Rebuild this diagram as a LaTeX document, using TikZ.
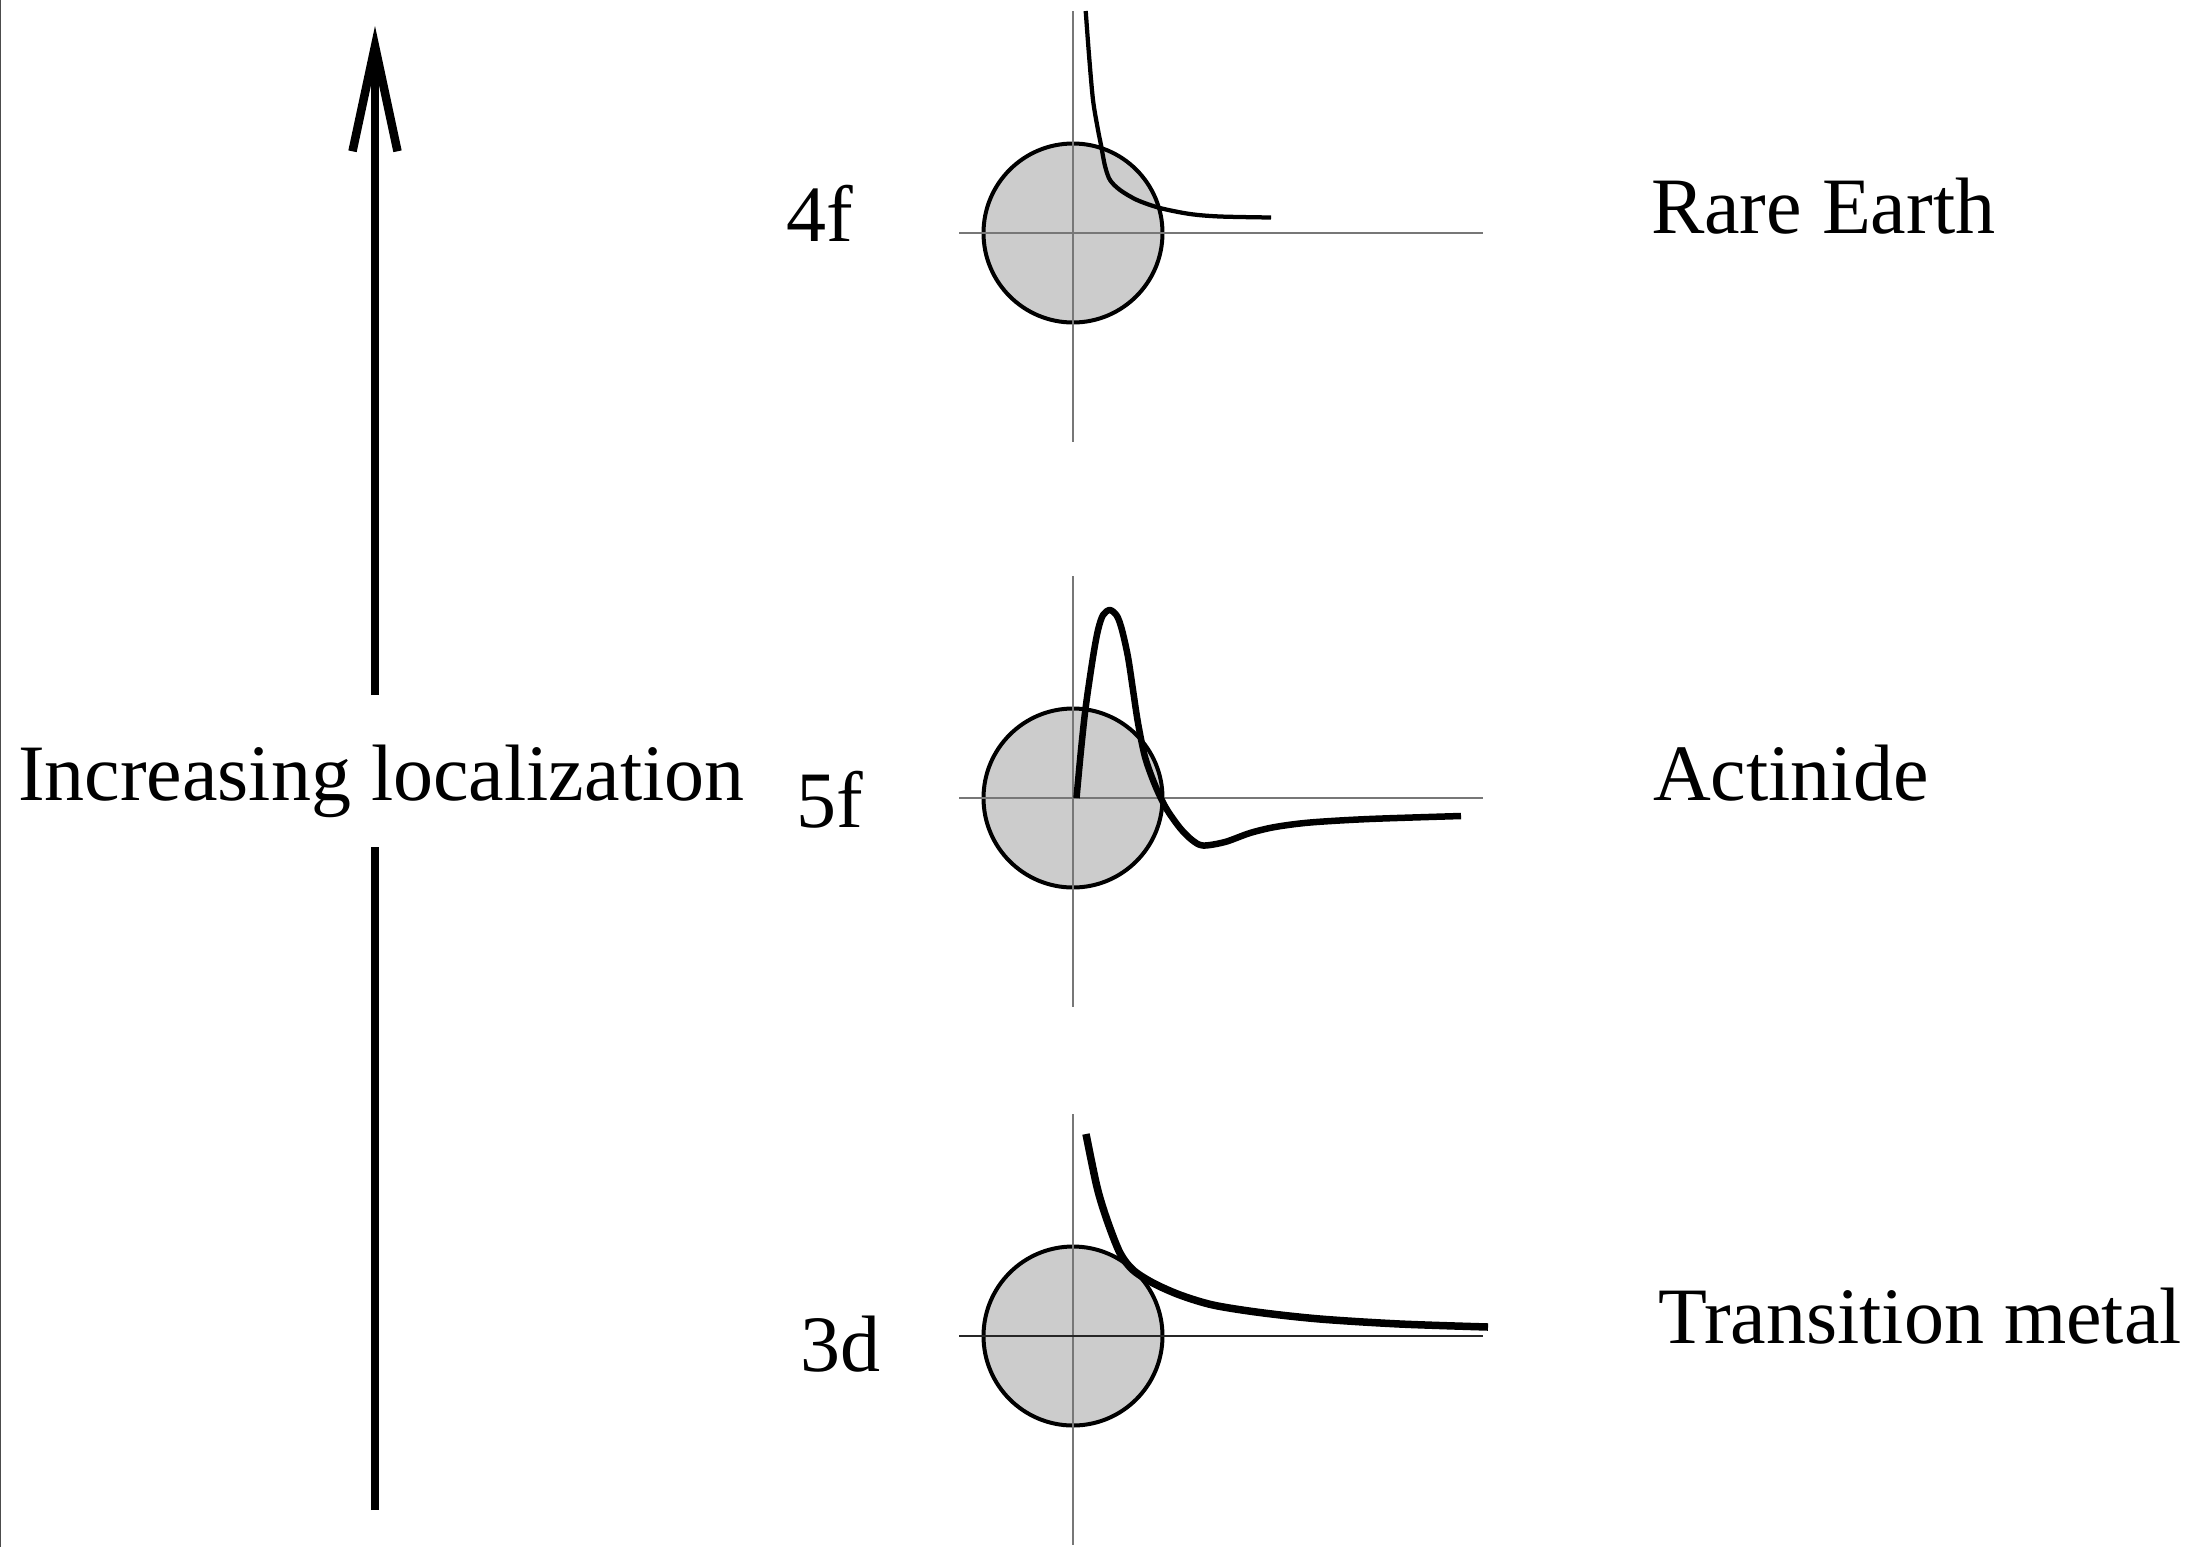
\documentclass[tikz,border=0pt]{standalone}
\usepackage{fontspec}
\setmainfont{Liberation Serif}
\usetikzlibrary{arrows.meta,calc}
\definecolor{corefill}{HTML}{CCCCCC}
\definecolor{axisgray}{HTML}{777777}

\begin{document}
\begin{tikzpicture}[
    x=0.2pt, y=-0.2pt,
    core/.style={circle, draw=black, line width=0.8pt, fill=corefill,
                 minimum size=35.8pt, inner sep=0pt},
    axis/.style={draw=axisgray, line width=0.3pt},
    wave/.style={line width=#1, line cap=butt, line join=round},
    lbl/.style={anchor=base west, inner sep=0pt, font=\fontsize{16}{19}\selectfont},
    shaft/.style={line width=1.7pt},
  ]
  \useasboundingbox (0,0) rectangle (2199,1547);
  \draw[line width=0.3pt, black!70] (0.75,0) -- (0.75,1547);

  % localization arrow
  \node[lbl] (loc) at (17,800) {Increasing localization};
  \coordinate (arrowtop) at (375,26);
  \coordinate (gaptop) at (375,695);
  \coordinate (gapbot) at (375,847);
  \coordinate (arrowbot) at (375,1510);
  \draw[shaft, -{Straight Barb[length=21pt, width=9pt]}] (gaptop) -- (arrowtop);
  \draw[shaft] (arrowbot) -- (gapbot);

  % cores
  \node[core] (c4f) at (1073,233) {};
  \node[core] (c5f) at (1073,798) {};
  \node[core] (c3d) at (1073,1336) {};
  \foreach \c in {c4f,c5f,c3d} {
    \draw[axis] ($(\c)+(0,-222)$) -- ($(\c)+(0,209)$);
  }
  \draw[axis] ($(c4f)+(-114,0)$) -- ($(c4f)+(410,0)$);
  \draw[axis] ($(c5f)+(-114,0)$) -- ($(c5f)+(410,0)$);
  \draw[axis, draw=black!85] ($(c3d)+(-114,0)$) -- ($(c3d)+(410,0)$);

  % radial functions
  \draw[wave=0.85pt] plot[smooth, tension=0.5] coordinates {
    (1085.7,11) (1089,55) (1093,100) (1098,130) (1101,145) (1105,166)
    (1110,180) (1120,190) (1137,200) (1160,208) (1190,214) (1220,216.5) (1271,217.5)};
  \draw[wave=1.3pt] plot[smooth, tension=0.5] coordinates {
    (1076.5,798) (1081,750) (1085.7,707) (1093,657) (1098,630) (1103,615)
    (1110,610) (1117,616) (1122,630) (1128,657) (1133,690) (1138,723)
    (1145,757) (1155,785) (1166,808) (1180,828) (1192,840) (1203,845.5)
    (1225,842) (1250,833) (1275,827) (1310,822.5) (1369,819) (1461,816)};
  \draw[wave=1.5pt] plot[smooth, tension=0.5] coordinates {
    (1086,1134) (1097,1187) (1107,1220) (1120,1253) (1133,1270)
    (1153,1283) (1180,1295) (1213,1305) (1260,1312.5) (1320,1319)
    (1400,1324) (1488,1327)};

  % labels
  \node[lbl] (lbl4f) at (785,241) {4f};
  \node[lbl] (lbl5f) at (795,827) {5f};
  \node[lbl] (lbl3d) at (799,1371) {3d};
  \node[lbl] (rare) at (1650,233) {Rare Earth};
  \node[lbl] (actinide) at (1652,800) {Actinide};
  \node[lbl] (transition) at (1657,1343) {Transition metal};
\end{tikzpicture}
\end{document}
